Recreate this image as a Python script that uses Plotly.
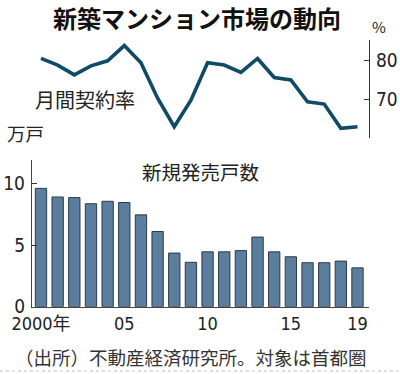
import plotly.graph_objects as go
from plotly.subplots import make_subplots

years = [2000, 2001, 2002, 2003, 2004, 2005, 2006, 2007, 2008, 2009,
         2010, 2011, 2012, 2013, 2014, 2015, 2016, 2017, 2018, 2019]
contract_rate = [80.4, 78.7, 76.2, 78.5, 79.8, 83.7, 79.3, 70.2, 62.9, 69.7,
                 79.3, 78.7, 76.8, 80.4, 75.5, 74.9, 69.3, 68.7, 62.5, 62.9]
new_units = [9.6, 8.9, 8.85, 8.35, 8.55, 8.45, 7.45, 6.1, 4.35, 3.6,
             4.45, 4.45, 4.55, 5.65, 4.45, 4.05, 3.57, 3.57, 3.7, 3.15]
x_tickvals = [2000, 2005, 2010, 2015, 2019]
x_ticktext = ["2000年", "05", "10", "15", "19"]
rate_ticks = [70, 80]
unit_ticks = [0, 5, 10]

W, H = 400, 374
CJK = "Noto Sans CJK JP"
NUM = "Liberation Sans Narrow, DejaVu Sans Condensed, Roboto Condensed, Roboto, Noto Sans CJK JP"

def py(px):
    return 1 - px / H

fig = make_subplots(rows=2, cols=1)

fig.add_trace(go.Scatter(x=years, y=contract_rate, mode="lines",
                         line=dict(color="#0f4b67", width=3.6),
                         hoverinfo="skip", showlegend=False), row=1, col=1)
fig.add_trace(go.Bar(x=years, y=new_units, width=0.68,
                     marker=dict(color="#5b7e9e", line=dict(color="#2f3a44", width=1)),
                     hoverinfo="skip", showlegend=False), row=2, col=1)

x0_px, x1_px = 32, 369
step = 16.66
xr = [2000 - (41 - x0_px) / step, 2019 + (x1_px - 357.5) / step]

tickf = dict(family=NUM, size=19, color="#222")
fig.update_layout(
    width=W, height=H, margin=dict(l=0, r=0, t=0, b=0, autoexpand=False),
    paper_bgcolor="white", plot_bgcolor="white",
    bargap=0,
    xaxis=dict(domain=[x0_px / W, x1_px / W], range=xr, visible=False, automargin=False),
    yaxis=dict(domain=[py(138), py(40)], range=[60, 85.13], side="right",
               tickvals=rate_ticks, ticks="inside", ticklen=5, tickcolor="#333",
               showline=True, linecolor="#333", linewidth=1.2, showgrid=False,
               zeroline=False, tickfont=tickf, automargin=False, ticklabelstandoff=2),
    xaxis2=dict(domain=[x0_px / W, x1_px / W], range=xr, tickvals=x_tickvals,
                ticktext=x_ticktext, ticks="", showline=True, linecolor="#444",
                linewidth=1.2, showgrid=False, zeroline=False,
                tickfont=dict(family=NUM, size=18, color="#222"),
                automargin=False, ticklabelstandoff=0),
    yaxis2=dict(domain=[py(306.7), py(160)], range=[0, 11.9], tickvals=unit_ticks,
                ticks="inside", ticklen=5, tickcolor="#333", showline=True,
                linecolor="#444", linewidth=1.2, showgrid=False, zeroline=False,
                tickfont=tickf, automargin=False, ticklabelstandoff=2),
)

ann = [
    dict(text="<b>新築マンション市場の動向</b>", x=197 / W, y=py(18), size=24, color="#111"),
    dict(text="%", x=379 / W, y=py(26), size=15, color="#222"),
    dict(text="月間契約率", x=85 / W, y=py(100), size=20, color="#222"),
    dict(text="万戸", x=25.5 / W, y=py(133), size=18.5, color="#222"),
    dict(text="新規発売戸数", x=200 / W, y=py(171), size=19.5, color="#222"),
    dict(text="（出所）不動産経済研究所。対象は首都圏", x=190.5 / W, y=py(357), size=18.5, color="#333"),
]
for a in ann:
    fig.add_annotation(text=a["text"], x=a["x"], y=a["y"], xref="paper", yref="paper",
                       showarrow=False, xanchor="center", yanchor="middle",
                       font=dict(family=CJK, size=a["size"], color=a["color"]))

fig.add_shape(type="line", xref="paper", yref="paper", x0=0, x1=1, y0=py(371), y1=py(371),
              line=dict(color="#bbbbbb", width=1, dash="dot"))

fig.write_html("out.html", config={"displayModeBar": False, "staticPlot": True},
               post_script="document.body.style.margin='0';document.body.style.overflow='hidden';")
